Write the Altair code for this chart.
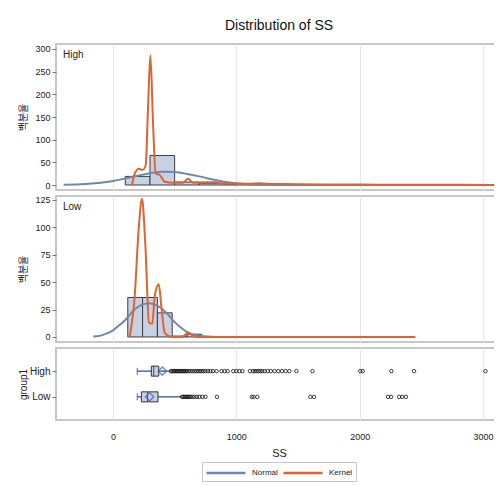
import altair as alt
import pandas as pd

TITLE = "Distribution of SS"
X_TITLE = "SS"
Y_TITLE = "백분율"
GROUP_TITLE = "group1"
groups = ["High", "Low"]
curve_names = ["Normal", "Kernel"]
curve_colors = ["#6f87ae", "#e0632f"]

x_domain = [-462, 3154]
x_ticks = [0, 1000, 2000, 3000]

# ---- High: histogram (percent) ----
high_bin_start = [100, 300, 500, 700, 900, 1100, 1300, 1500, 1900, 2100, 2300, 2900]
high_bin_end = [300, 500, 700, 900, 1100, 1300, 1500, 1700, 2100, 2300, 2500, 3100]
high_pct = [19, 65, 6.5, 4, 2.5, 2, 1, 0.5, 0.3, 0.2, 0.2, 0.1]

high_normal_x = [-400, -300, -200, -100, 0, 100, 200, 300, 400, 500, 600, 700, 800, 900, 1000, 1100, 1200, 1300, 1500, 3080]
high_normal_y = [0.5, 1.3, 2.6, 5, 9, 14.5, 20.5, 26, 29.5, 28.5, 24.5, 19, 12.5, 7, 3.5, 1.5, 0.6, 0.2, 0, 0]

high_kernel_x = [154, 176, 211, 238, 265, 284, 303, 325, 346, 379, 419, 487, 568, 608, 649, 757, 838, 892, 973, 1108, 1180, 1243, 1378, 1500, 1700, 2000, 2300, 2600, 3080]
high_kernel_y = [0, 25, 36, 33, 43, 170, 286, 134, 25, 22, 7, 5, 5, 14, 5, 6, 6, 3, 4, 3, 4, 3, 2, 1.5, 1, 1, 0.5, 0.5, 0.3]

# ---- Low: histogram (percent) ----
low_bin_start = [120, 240, 360, 480, 600]
low_bin_end = [240, 360, 480, 600, 720]
low_pct = [36, 36, 22, 0.8, 2.5]

low_normal_x = [-160, -108, -50, 0, 27, 100, 162, 220, 292, 350, 433, 500, 568, 649, 720, 800, 900, 2450]
low_normal_y = [0.4, 1, 3.2, 6, 8.5, 15.5, 23.7, 28.5, 30.7, 29, 22, 13.5, 7, 2, 0.8, 0.2, 0, 0]

low_kernel_x = [135, 176, 208, 235, 263, 292, 319, 338, 371, 392, 419, 460, 527, 570, 608, 662, 730, 2450]
low_kernel_y = [0, 37, 98, 126, 83, 13, 12, 37, 48, 28, 4, 0.5, 0, 0.5, 4, 0.5, 0, 0]

# ---- Box plot statistics ----
whisker_lo = [197, 197]
q1 = [311, 230]
median = [330, 280]
q3 = [371, 365]
whisker_hi = [460, 554]
means = [400, 297]

high_out = [470, 480, 490, 500, 510, 520, 530, 540, 550, 560, 570, 580, 590, 600, 615, 630, 645, 660,
            675, 690, 705, 720, 735, 750, 770, 790, 810, 840, 880, 905, 930, 975, 1000, 1025, 1050,
            1110, 1135, 1150, 1165, 1180, 1195, 1210, 1230, 1255, 1280, 1310, 1340, 1370, 1400, 1430,
            1487, 1617, 2005, 2025, 2257, 2441, 3020]
low_out = [560, 570, 580, 590, 600, 610, 620, 630, 645, 660, 680, 700, 725, 750, 843, 1125, 1140,
           1170, 1600, 1630, 2230, 2255, 2320, 2345, 2375]

FONT = "Liberation Sans"
KFONT = "Noto Sans CJK KR"
W = 446

xs = alt.Scale(domain=x_domain, nice=False, zero=False)
grid_axis = alt.Axis(values=x_ticks, labels=False, ticks=False, domain=False, grid=True,
                     gridColor="#e6e6e6", title=None, minExtent=0, maxExtent=0)
color_scale = alt.Scale(domain=curve_names, range=curve_colors)
legend = alt.Legend(orient="none", legendX=146, legendY=418, direction="horizontal", title=None,
                    symbolType="M-3,0H3", symbolSize=169, symbolStrokeWidth=2.5, symbolOffset=13,
                    labelOffset=18, labelFont=FONT, labelFontSize=8, labelColor="#222",
                    strokeColor="#c8c8c8", padding=3, columnPadding=0)


def y_axis(title, font, values=None, label_size=9, height=146):
    kw = dict(title=title, titleFont=font, titleFontSize=10, titleFontWeight="normal",
              titleColor="#222", titleX=-33, titleY=height / 2, titleBaseline="middle",
              labelFont=FONT, labelFontSize=label_size, labelColor="#222",
              tickColor="#777", tickSize=4, domain=False, grid=False, minExtent=31,
              maxExtent=31, titlePadding=1, labelPadding=2, labelOverlap=False)
    if values is not None:
        kw["values"] = values
    return alt.Axis(**kw)


def hist_panel(start, end, pct, nx, ny, kx, ky, label, ydom, yvals):
    bars_df = pd.DataFrame({"start": start, "end": end, "pct": pct})
    normal_df = pd.DataFrame({"x": nx, "y": ny, "curve": "Normal"})
    kernel_df = pd.DataFrame({"x": kx, "y": ky, "curve": "Kernel"})
    ys = alt.Scale(domain=ydom, nice=False, zero=False)
    yax = y_axis(Y_TITLE, KFONT, yvals)
    bars = alt.Chart(bars_df).mark_bar(fill="#c6d1e3", stroke="#3c3c3c", strokeWidth=1).encode(
        x=alt.X("start:Q", scale=xs, axis=grid_axis),
        x2="end:Q",
        y=alt.Y("pct:Q", scale=ys, axis=yax),
        y2=alt.datum(0),
    )
    def curve(df):
        return alt.Chart(df).mark_line(strokeWidth=2, clip=True, interpolate="monotone").encode(
            x=alt.X("x:Q", scale=xs, axis=grid_axis),
            y=alt.Y("y:Q", scale=ys, axis=yax),
            color=alt.Color("curve:N", scale=color_scale, legend=legend),
        )
    text = alt.Chart(pd.DataFrame({"t": [label]})).mark_text(
        align="left", baseline="middle", font=FONT, fontSize=10, color="#222"
    ).encode(x=alt.value(7), y=alt.value(11), text="t:N")
    return alt.layer(bars, curve(normal_df), curve(kernel_df), text).properties(width=W, height=146)


high_panel = hist_panel(high_bin_start, high_bin_end, high_pct, high_normal_x, high_normal_y,
                        high_kernel_x, high_kernel_y, "High", [-11, 311], [0, 50, 100, 150, 200, 250, 300])
low_panel = hist_panel(low_bin_start, low_bin_end, low_pct, low_normal_x, low_normal_y,
                       low_kernel_x, low_kernel_y, "Low", [-4.6, 128.6], [0, 25, 50, 75, 100, 125])

box_df = pd.DataFrame({"group": groups, "lo": whisker_lo, "q1": q1, "med": median,
                       "q3": q3, "hi": whisker_hi, "mean": means})
out_df = pd.DataFrame({"group": ["High"] * len(high_out) + ["Low"] * len(low_out),
                       "v": high_out + low_out})

gy_scale = alt.Scale(type="point", domain=groups, padding=0.9)
x_axis = alt.Axis(values=x_ticks, format="d", title=X_TITLE, titleFont=FONT, titleFontSize=11,
                  titleFontWeight="normal", titleColor="#222", labelFont=FONT, labelFontSize=9,
                  labelColor="#222", ticks=False, domain=False, grid=True, gridColor="#e6e6e6",
                  labelPadding=12, titlePadding=6)
gy = alt.Y("group:N", scale=gy_scale, axis=y_axis(GROUP_TITLE, FONT, None, 10, 72))

box_base = alt.Chart(box_df)
whisk = box_base.mark_rule(color="#2f4a94", strokeWidth=1.2).encode(
    x=alt.X("lo:Q", scale=xs, axis=x_axis), x2="hi:Q", y=gy)
cap_lo = box_base.mark_tick(color="#2f4a94", size=7, thickness=1.2).encode(
    x=alt.X("lo:Q", scale=xs, axis=x_axis), y=gy)
box = box_base.mark_bar(size=10, fill="#c6d1e3", stroke="#333333", strokeWidth=1).encode(
    x=alt.X("q1:Q", scale=xs, axis=x_axis), x2="q3:Q", y=gy)
med = box_base.mark_tick(color="#333333", size=10, thickness=1.2).encode(
    x=alt.X("med:Q", scale=xs, axis=x_axis), y=gy)
mean_pt = box_base.mark_point(shape="diamond", size=70, filled=False, color="#3b5cc0",
                              strokeWidth=1.4).encode(x=alt.X("mean:Q", scale=xs, axis=x_axis), y=gy)
outl = alt.Chart(out_df).mark_point(shape="circle", size=12, filled=False, color="#111111",
                                   strokeWidth=0.8, opacity=1).encode(
    x=alt.X("v:Q", scale=xs, axis=x_axis), y=gy)
box_panel = alt.layer(whisk, cap_lo, box, med, mean_pt, outl).properties(width=W, height=72)

chart = alt.vconcat(high_panel, low_panel, box_panel, spacing=4).properties(
    title=alt.TitleParams(TITLE, font=FONT, fontSize=14, fontWeight="normal", color="#111",
                          anchor="middle", offset=10, dx=19),
    padding={"left": 9, "top": 11, "right": -9, "bottom": 0},
).configure_view(stroke="#b5b5b5", strokeWidth=1.5).resolve_scale(color="shared")

chart.save("out.html", embed_options={"renderer": "svg", "actions": False})
